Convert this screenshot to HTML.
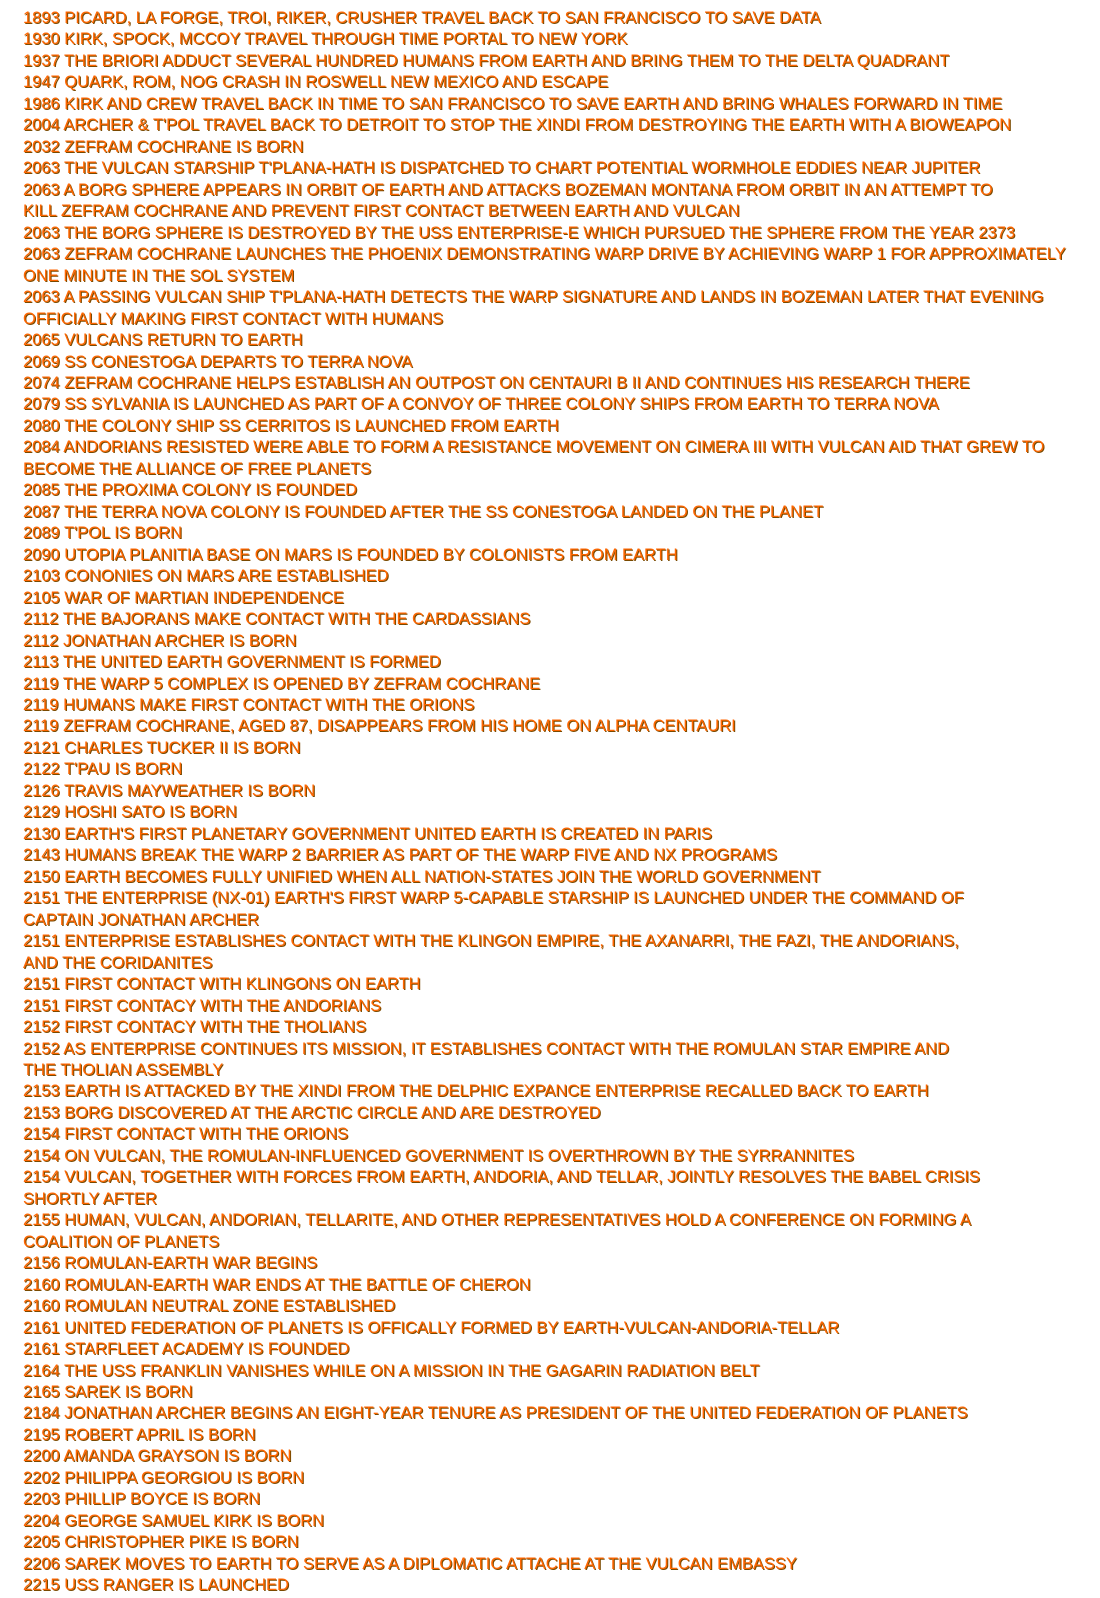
<!DOCTYPE html>
<html><head><meta charset="utf-8"><style>
html,body{margin:0;padding:0;background:#fff;width:1100px;height:1598px;overflow:hidden;position:relative}
#t{position:absolute;left:23px;top:8px;font-family:"Liberation Sans",sans-serif;font-size:16.5px;line-height:21.47px;color:#ff6600;text-shadow:1px 1px 0 #7a4a00;white-space:nowrap}
#t div{height:21.47px}
</style></head><body><div id="t">
<div>1893 PICARD, LA FORGE, TROI, RIKER, CRUSHER TRAVEL BACK TO SAN FRANCISCO TO SAVE DATA</div>
<div>1930 KIRK, SPOCK, MCCOY TRAVEL THROUGH TIME PORTAL TO NEW YORK</div>
<div>1937 THE BRIORI ADDUCT SEVERAL HUNDRED HUMANS FROM EARTH AND BRING THEM TO THE DELTA QUADRANT</div>
<div>1947 QUARK, ROM, NOG CRASH IN ROSWELL NEW MEXICO AND ESCAPE</div>
<div>1986 KIRK AND CREW TRAVEL BACK IN TIME TO SAN FRANCISCO TO SAVE EARTH AND BRING WHALES FORWARD IN TIME</div>
<div>2004 ARCHER &amp; T'POL TRAVEL BACK TO DETROIT TO STOP THE XINDI FROM DESTROYING THE EARTH WITH A BIOWEAPON</div>
<div>2032 ZEFRAM COCHRANE IS BORN</div>
<div>2063 THE VULCAN STARSHIP T'PLANA-HATH IS DISPATCHED TO CHART POTENTIAL WORMHOLE EDDIES NEAR JUPITER</div>
<div>2063 A BORG SPHERE APPEARS IN ORBIT OF EARTH AND ATTACKS BOZEMAN MONTANA FROM ORBIT IN AN ATTEMPT TO</div>
<div>KILL ZEFRAM COCHRANE AND PREVENT FIRST CONTACT BETWEEN EARTH AND VULCAN</div>
<div>2063 THE BORG SPHERE IS DESTROYED BY THE USS ENTERPRISE-E WHICH PURSUED THE SPHERE FROM THE YEAR 2373</div>
<div>2063 ZEFRAM COCHRANE LAUNCHES THE PHOENIX DEMONSTRATING WARP DRIVE BY ACHIEVING WARP 1 FOR APPROXIMATELY</div>
<div>ONE MINUTE IN THE SOL SYSTEM</div>
<div>2063 A PASSING VULCAN SHIP T'PLANA-HATH DETECTS THE WARP SIGNATURE AND LANDS IN BOZEMAN LATER THAT EVENING</div>
<div>OFFICIALLY MAKING FIRST CONTACT WITH HUMANS</div>
<div>2065 VULCANS RETURN TO EARTH</div>
<div>2069 SS CONESTOGA DEPARTS TO TERRA NOVA</div>
<div>2074 ZEFRAM COCHRANE HELPS ESTABLISH AN OUTPOST ON CENTAURI B II AND CONTINUES HIS RESEARCH THERE</div>
<div>2079 SS SYLVANIA IS LAUNCHED AS PART OF A CONVOY OF THREE COLONY SHIPS FROM EARTH TO TERRA NOVA</div>
<div>2080 THE COLONY SHIP SS CERRITOS IS LAUNCHED FROM EARTH</div>
<div>2084 ANDORIANS RESISTED WERE ABLE TO FORM A RESISTANCE MOVEMENT ON CIMERA III WITH VULCAN AID THAT GREW TO</div>
<div>BECOME THE ALLIANCE OF FREE PLANETS</div>
<div>2085 THE PROXIMA COLONY IS FOUNDED</div>
<div>2087 THE TERRA NOVA COLONY IS FOUNDED AFTER THE SS CONESTOGA LANDED ON THE PLANET</div>
<div>2089 T'POL IS BORN</div>
<div>2090 UTOPIA PLANITIA BASE ON MARS IS FOUNDED BY COLONISTS FROM EARTH</div>
<div>2103 CONONIES ON MARS ARE ESTABLISHED</div>
<div>2105 WAR OF MARTIAN INDEPENDENCE</div>
<div>2112 THE BAJORANS MAKE CONTACT WITH THE CARDASSIANS</div>
<div>2112 JONATHAN ARCHER IS BORN</div>
<div>2113 THE UNITED EARTH GOVERNMENT IS FORMED</div>
<div>2119 THE WARP 5 COMPLEX IS OPENED BY ZEFRAM COCHRANE</div>
<div>2119 HUMANS MAKE FIRST CONTACT WITH THE ORIONS</div>
<div>2119 ZEFRAM COCHRANE, AGED 87, DISAPPEARS FROM HIS HOME ON ALPHA CENTAURI</div>
<div>2121 CHARLES TUCKER II IS BORN</div>
<div>2122 T'PAU IS BORN</div>
<div>2126 TRAVIS MAYWEATHER IS BORN</div>
<div>2129 HOSHI SATO IS BORN</div>
<div>2130 EARTH'S FIRST PLANETARY GOVERNMENT UNITED EARTH IS CREATED IN PARIS</div>
<div>2143 HUMANS BREAK THE WARP 2 BARRIER AS PART OF THE WARP FIVE AND NX PROGRAMS</div>
<div>2150 EARTH BECOMES FULLY UNIFIED WHEN ALL NATION-STATES JOIN THE WORLD GOVERNMENT</div>
<div>2151 THE ENTERPRISE (NX-01) EARTH'S FIRST WARP 5-CAPABLE STARSHIP IS LAUNCHED UNDER THE COMMAND OF</div>
<div>CAPTAIN JONATHAN ARCHER</div>
<div>2151 ENTERPRISE ESTABLISHES CONTACT WITH THE KLINGON EMPIRE, THE AXANARRI, THE FAZI, THE ANDORIANS,</div>
<div>AND THE CORIDANITES</div>
<div>2151 FIRST CONTACT WITH KLINGONS ON EARTH</div>
<div>2151 FIRST CONTACY WITH THE ANDORIANS</div>
<div>2152 FIRST CONTACY WITH THE THOLIANS</div>
<div>2152 AS ENTERPRISE CONTINUES ITS MISSION, IT ESTABLISHES CONTACT WITH THE ROMULAN STAR EMPIRE AND</div>
<div>THE THOLIAN ASSEMBLY</div>
<div>2153 EARTH IS ATTACKED BY THE XINDI FROM THE DELPHIC EXPANCE ENTERPRISE RECALLED BACK TO EARTH</div>
<div>2153 BORG DISCOVERED AT THE ARCTIC CIRCLE AND ARE DESTROYED</div>
<div>2154 FIRST CONTACT WITH THE ORIONS</div>
<div>2154 ON VULCAN, THE ROMULAN-INFLUENCED GOVERNMENT IS OVERTHROWN BY THE SYRRANNITES</div>
<div>2154 VULCAN, TOGETHER WITH FORCES FROM EARTH, ANDORIA, AND TELLAR, JOINTLY RESOLVES THE BABEL CRISIS</div>
<div>SHORTLY AFTER</div>
<div>2155 HUMAN, VULCAN, ANDORIAN, TELLARITE, AND OTHER REPRESENTATIVES HOLD A CONFERENCE ON FORMING A</div>
<div>COALITION OF PLANETS</div>
<div>2156 ROMULAN-EARTH WAR BEGINS</div>
<div>2160 ROMULAN-EARTH WAR ENDS AT THE BATTLE OF CHERON</div>
<div>2160 ROMULAN NEUTRAL ZONE ESTABLISHED</div>
<div>2161 UNITED FEDERATION OF PLANETS IS OFFICALLY FORMED BY EARTH-VULCAN-ANDORIA-TELLAR</div>
<div>2161 STARFLEET ACADEMY IS FOUNDED</div>
<div>2164 THE USS FRANKLIN VANISHES WHILE ON A MISSION IN THE GAGARIN RADIATION BELT</div>
<div>2165 SAREK IS BORN</div>
<div>2184 JONATHAN ARCHER BEGINS AN EIGHT-YEAR TENURE AS PRESIDENT OF THE UNITED FEDERATION OF PLANETS</div>
<div>2195 ROBERT APRIL IS BORN</div>
<div>2200 AMANDA GRAYSON IS BORN</div>
<div>2202 PHILIPPA GEORGIOU IS BORN</div>
<div>2203 PHILLIP BOYCE IS BORN</div>
<div>2204 GEORGE SAMUEL KIRK IS BORN</div>
<div>2205 CHRISTOPHER PIKE IS BORN</div>
<div>2206 SAREK MOVES TO EARTH TO SERVE AS A DIPLOMATIC ATTACHE AT THE VULCAN EMBASSY</div>
<div>2215 USS RANGER IS LAUNCHED</div>
</div></body></html>
